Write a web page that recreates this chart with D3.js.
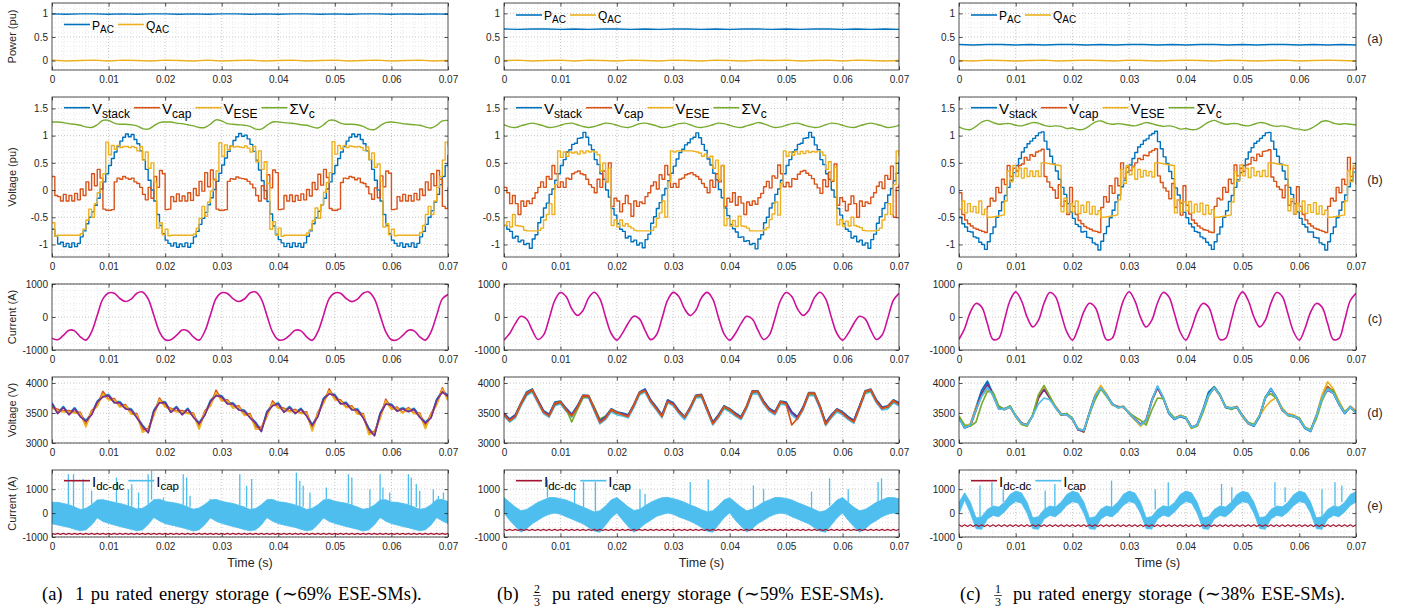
<!DOCTYPE html>
<html>
<head>
<meta charset="utf-8">
<script src="https://cdn.jsdelivr.net/npm/d3@7"></script>
<style>
  body { margin: 0; background: #fff; }
  svg { display: block; }
</style>
</head>
<body>
<svg id="chart" width="1409" height="612"></svg>
<script>
// sample spacing of the stored series (s)
const T_END = 0.07;
const DT_PQ = 0.0025, DT_SLOW = 0.001, DT_FAST = 0.0005;
const xTicks = [0, 0.01, 0.02, 0.03, 0.04, 0.05, 0.06, 0.07];

// ---------- (a) power, pu, every 2.5 ms ----------
const pAcA = [0.99,0.98,0.99,0.99,0.98,0.99,0.98,0.99,0.99,0.98,0.99,0.98,0.99,0.99,0.98,0.99,0.98,0.99,0.99,0.98,0.99,0.98,0.99,0.99,0.98,0.99,0.98,0.99,0.98];
const qAcA = [0.01,-0.01,0.00,0.01,-0.01,0.01,0.00,-0.01,0.01,0.00,-0.01,0.01,-0.01,0.00,0.01,-0.01,0.00,0.01,-0.01,0.00,0.01,-0.01,0.00,0.01,-0.01,0.00,0.01,-0.01,0.00];
const pAcB = [0.67,0.66,0.67,0.67,0.66,0.67,0.66,0.67,0.67,0.66,0.67,0.66,0.67,0.67,0.66,0.67,0.66,0.67,0.67,0.66,0.67,0.66,0.67,0.67,0.66,0.67,0.66,0.67,0.66];
const qAcB = [0.00,0.01,-0.01,0.00,0.01,-0.01,0.01,0.00,-0.01,0.01,0.00,-0.01,0.01,0.00,-0.01,0.01,0.00,-0.01,0.01,0.00,0.01,-0.01,0.00,0.01,-0.01,0.01,0.00,-0.01,0.00];
const pAcC = [0.34,0.33,0.34,0.34,0.33,0.34,0.33,0.34,0.34,0.33,0.34,0.33,0.34,0.34,0.33,0.34,0.33,0.34,0.34,0.33,0.34,0.33,0.34,0.34,0.33,0.34,0.33,0.34,0.33];
const qAcC = [0.00,-0.01,0.01,0.00,-0.01,0.00,0.01,-0.01,0.00,0.01,0.00,-0.01,0.01,0.00,-0.01,0.00,0.01,0.00,-0.01,0.01,0.00,-0.01,0.00,0.01,-0.01,0.00,0.01,0.00,-0.01];

// ---------- (b) voltages, pu, every 0.5 ms (sum of caps every 1 ms) ----------
const vStackA = [
  -0.72,-0.85,-0.99,-0.96,-1.04,-0.98,-1.05,-0.97,-1.04,-0.98,-0.86,-0.75,-0.62,-0.50,-0.40,-0.28,-0.15,0.02,0.15,0.30,
  0.45,0.58,0.70,0.80,0.90,0.97,1.03,0.98,1.02,0.93,0.85,0.72,0.56,0.38,0.18,0.00,-0.20,-0.45,-0.65,-0.80,
  -0.92,-0.98,-1.03,-0.97,-1.05,-0.99,-1.04,-0.97,-1.05,-0.98,-0.86,-0.76,-0.63,-0.52,-0.41,-0.27,-0.14,0.01,0.16,0.31,
  0.46,0.59,0.71,0.81,0.91,0.98,1.04,0.99,1.01,0.94,0.84,0.71,0.55,0.37,0.17,-0.01,-0.21,-0.44,-0.66,-0.81,
  -0.91,-0.97,-1.04,-0.98,-1.05,-0.97,-1.04,-0.98,-1.05,-0.97,-0.85,-0.75,-0.62,-0.51,-0.39,-0.27,-0.15,0.02,0.15,0.30,
  0.45,0.58,0.70,0.80,0.90,0.97,1.03,0.98,1.02,0.93,0.85,0.72,0.56,0.38,0.18,0.00,-0.20,-0.45,-0.65,-0.80,
  -0.92,-0.98,-1.03,-0.97,-1.05,-0.99,-1.04,-0.97,-1.05,-0.98,-0.86,-0.76,-0.63,-0.50,-0.38,-0.22,-0.08,0.10,0.25,0.45,
  0.65];
const vCapA = [
  0.25,-0.10,-0.12,-0.20,-0.08,-0.20,-0.10,-0.20,-0.06,-0.18,0.02,-0.10,0.15,0.00,0.30,0.08,0.38,0.22,-0.35,-0.37,
  -0.37,-0.36,0.15,0.22,0.20,0.25,0.22,0.20,0.22,0.15,0.12,0.05,-0.08,-0.18,0.05,-0.15,0.25,0.05,0.36,0.30,
  -0.36,-0.35,-0.12,-0.21,-0.07,-0.20,-0.11,-0.20,-0.05,-0.19,0.03,-0.10,0.16,-0.02,0.32,0.06,0.37,0.20,-0.35,-0.37,
  -0.37,-0.36,0.16,0.21,0.20,0.24,0.22,0.21,0.20,0.16,0.11,0.04,-0.10,-0.20,0.08,-0.16,0.28,0.04,0.37,0.32,
  -0.36,-0.35,-0.10,-0.20,-0.09,-0.21,-0.10,-0.19,-0.07,-0.18,0.01,-0.11,0.14,0.01,0.29,0.09,0.38,0.23,-0.34,-0.37,
  -0.37,-0.35,0.14,0.22,0.21,0.25,0.23,0.19,0.22,0.14,0.12,0.06,-0.07,-0.17,0.04,-0.14,0.26,0.06,0.35,0.31,
  -0.36,-0.35,-0.12,-0.20,-0.08,-0.20,-0.10,-0.20,-0.06,-0.18,0.02,-0.10,0.15,0.00,0.30,0.08,0.36,0.20,-0.30,-0.34,
  0.05];
const vEseA = [
  -0.60,-0.85,-0.83,-0.83,-0.83,-0.83,-0.83,-0.83,-0.83,-0.83,-0.80,-0.72,-0.55,-0.35,-0.50,-0.25,-0.05,0.15,0.30,0.88,
  0.65,0.82,0.75,0.82,0.78,0.80,0.80,0.78,0.80,0.78,0.72,0.80,0.55,0.70,0.40,0.50,0.15,-0.70,-0.60,-0.82,
  -0.72,-0.84,-0.83,-0.83,-0.83,-0.83,-0.83,-0.83,-0.83,-0.83,-0.81,-0.70,-0.52,-0.30,-0.48,-0.22,-0.02,0.18,0.35,0.87,
  0.62,0.83,0.74,0.81,0.79,0.80,0.79,0.78,0.81,0.77,0.70,0.80,0.52,0.72,0.38,0.52,0.12,-0.72,-0.58,-0.83,
  -0.70,-0.85,-0.83,-0.83,-0.83,-0.83,-0.83,-0.83,-0.83,-0.83,-0.79,-0.73,-0.56,-0.33,-0.52,-0.27,-0.04,0.14,0.32,0.89,
  0.66,0.82,0.76,0.82,0.78,0.81,0.80,0.79,0.80,0.78,0.73,0.79,0.56,0.68,0.42,0.48,0.16,-0.68,-0.62,-0.82,
  -0.72,-0.84,-0.83,-0.83,-0.83,-0.83,-0.83,-0.83,-0.83,-0.83,-0.78,-0.65,-0.45,-0.30,-0.45,-0.20,0.05,0.25,0.55,0.88,
  0.80];
const sumVcA = [
  1.25,1.25,1.24,1.22,1.21,1.19,1.16,1.15,1.20,1.28,1.28,1.23,1.21,1.21,1.20,1.18,1.13,1.12,1.18,1.24,
  1.25,1.25,1.23,1.22,1.20,1.18,1.15,1.15,1.21,1.29,1.27,1.22,1.21,1.20,1.19,1.17,1.12,1.12,1.19,1.25,
  1.25,1.24,1.23,1.22,1.20,1.19,1.16,1.14,1.20,1.28,1.28,1.23,1.21,1.21,1.20,1.17,1.12,1.11,1.18,1.24,
  1.25,1.24,1.22,1.21,1.20,1.19,1.16,1.14,1.19,1.27,1.28];

const vStackB = [
  -0.65,-0.72,-0.76,-0.88,-0.85,-0.95,-0.92,-1.00,-0.98,-1.07,-0.90,-0.82,-0.60,-0.50,-0.33,-0.24,-0.08,0.02,0.18,0.30,
  0.45,0.56,0.70,0.74,0.84,0.86,0.95,0.96,1.06,0.97,0.83,0.74,0.56,0.47,0.30,0.20,0.00,-0.13,-0.34,-0.46,
  -0.62,-0.72,-0.76,-0.88,-0.85,-0.95,-0.92,-1.01,-0.97,-1.06,-0.91,-0.81,-0.61,-0.49,-0.34,-0.23,-0.09,0.03,0.17,0.31,
  0.44,0.57,0.69,0.75,0.83,0.87,0.94,0.97,1.05,0.96,0.84,0.73,0.57,0.46,0.31,0.19,0.01,-0.14,-0.33,-0.47,
  -0.63,-0.71,-0.77,-0.87,-0.86,-0.94,-0.93,-1.00,-0.98,-1.08,-0.90,-0.82,-0.60,-0.50,-0.33,-0.24,-0.08,0.02,0.18,0.30,
  0.45,0.56,0.70,0.74,0.84,0.86,0.95,0.96,1.06,0.97,0.83,0.74,0.56,0.47,0.30,0.20,0.00,-0.13,-0.34,-0.46,
  -0.62,-0.72,-0.76,-0.88,-0.85,-0.95,-0.92,-1.01,-0.97,-1.07,-0.91,-0.81,-0.61,-0.49,-0.34,-0.23,-0.09,0.03,0.17,0.31,
  0.52];
const vCapB = [
  0.05,-0.05,-0.25,-0.10,-0.25,-0.45,-0.20,-0.30,-0.20,-0.25,-0.15,-0.05,0.05,0.15,0.05,0.25,0.20,0.45,0.30,0.05,
  0.15,0.05,0.22,0.20,0.30,0.33,0.35,0.30,0.28,0.20,0.10,0.05,-0.05,0.20,0.05,0.35,0.15,0.50,-0.30,-0.15,
  -0.20,-0.40,-0.25,-0.10,-0.25,-0.48,-0.20,-0.30,-0.22,-0.25,-0.12,-0.05,0.08,0.15,0.02,0.28,0.20,0.45,0.28,0.05,
  0.12,0.05,0.20,0.22,0.28,0.30,0.32,0.28,0.25,0.20,0.12,0.05,-0.05,0.18,0.05,0.30,0.15,0.45,-0.30,-0.15,
  -0.22,-0.05,-0.28,-0.12,-0.24,-0.45,-0.22,-0.28,-0.20,-0.26,-0.14,-0.06,0.06,0.16,0.04,0.26,0.22,0.46,0.30,0.06,
  0.14,0.06,0.21,0.20,0.29,0.34,0.36,0.31,0.27,0.21,0.11,0.04,-0.06,0.19,0.06,0.33,0.16,0.48,-0.28,-0.14,
  -0.21,-0.38,-0.26,-0.11,-0.25,-0.50,-0.20,-0.30,-0.22,-0.25,-0.13,-0.05,0.07,0.15,0.03,0.27,0.20,0.44,-0.50,0.05,
  0.10];
const vEseB = [
  -0.65,-0.58,-0.68,-0.45,-0.65,-0.66,-0.67,-0.74,-0.75,-0.75,-0.75,-0.75,-0.74,-0.70,-0.55,-0.45,-0.25,-0.45,0.10,0.72,
  0.60,0.70,0.62,0.70,0.68,0.70,0.66,0.72,0.68,0.72,0.70,0.72,0.70,0.65,0.35,0.50,0.15,0.40,-0.65,-0.55,
  -0.68,-0.55,-0.66,-0.62,-0.67,-0.70,-0.74,-0.75,-0.75,-0.75,-0.75,-0.75,-0.74,-0.68,-0.52,-0.42,-0.20,-0.50,0.15,0.72,
  0.70,0.72,0.72,0.72,0.72,0.72,0.72,0.71,0.70,0.68,0.62,0.66,0.60,0.62,0.40,0.55,0.20,0.45,-0.65,-0.52,
  -0.66,-0.56,-0.67,-0.48,-0.66,-0.67,-0.70,-0.75,-0.75,-0.75,-0.75,-0.75,-0.73,-0.69,-0.54,-0.44,-0.22,-0.46,0.12,0.72,
  0.62,0.70,0.64,0.71,0.66,0.71,0.67,0.72,0.69,0.71,0.70,0.72,0.70,0.64,0.38,0.52,0.18,0.42,-0.64,-0.54,
  -0.67,-0.57,-0.66,-0.50,-0.65,-0.67,-0.69,-0.74,-0.75,-0.75,-0.75,-0.75,-0.74,-0.70,-0.55,-0.45,-0.25,-0.45,0.10,0.72,
  0.62];
const sumVcB = [
  1.20,1.16,1.15,1.18,1.21,1.23,1.21,1.18,1.15,1.16,1.19,1.22,1.23,1.20,1.17,1.15,1.17,1.20,1.23,1.22,
  1.19,1.16,1.15,1.18,1.22,1.23,1.21,1.18,1.15,1.16,1.19,1.22,1.23,1.20,1.16,1.15,1.17,1.20,1.23,1.22,
  1.19,1.16,1.15,1.18,1.21,1.24,1.22,1.18,1.15,1.16,1.19,1.22,1.23,1.20,1.17,1.15,1.16,1.20,1.23,1.22,
  1.19,1.16,1.15,1.18,1.21,1.23,1.21,1.18,1.15,1.16,1.19];

const vStackC = [
  -0.50,-0.62,-0.68,-0.76,-0.77,-0.86,-0.88,-0.96,-1.00,-1.09,-0.95,-0.80,-0.68,-0.50,-0.38,-0.22,-0.10,0.05,0.18,0.32,
  0.45,0.58,0.70,0.78,0.85,0.90,0.95,1.00,1.05,1.07,0.90,0.75,0.62,0.48,0.35,0.20,0.05,-0.08,-0.25,-0.40,
  -0.52,-0.63,-0.67,-0.77,-0.76,-0.87,-0.88,-0.97,-1.00,-1.10,-0.94,-0.80,-0.67,-0.51,-0.37,-0.22,-0.09,0.06,0.18,0.33,
  0.46,0.58,0.69,0.79,0.84,0.91,0.94,1.01,1.04,1.08,0.89,0.76,0.61,0.49,0.34,0.21,0.04,-0.09,-0.24,-0.41,
  -0.51,-0.62,-0.68,-0.76,-0.78,-0.86,-0.89,-0.96,-1.01,-1.09,-0.95,-0.81,-0.68,-0.50,-0.38,-0.21,-0.10,0.05,0.19,0.32,
  0.45,0.57,0.70,0.78,0.86,0.90,0.95,1.00,1.05,1.06,0.90,0.75,0.62,0.48,0.35,0.20,0.05,-0.08,-0.25,-0.40,
  -0.52,-0.63,-0.68,-0.77,-0.77,-0.87,-0.88,-0.97,-1.00,-1.10,-0.95,-0.80,-0.68,-0.51,-0.37,-0.22,-0.09,0.06,0.18,0.33,
  0.50];
const vCapC = [
  -0.05,-0.45,-0.55,-0.62,-0.66,-0.70,-0.72,-0.74,-0.76,-0.78,-0.30,-0.15,-0.20,0.05,-0.05,0.20,0.10,0.45,0.25,0.40,
  0.35,0.45,0.48,0.60,0.55,0.65,0.62,0.70,0.72,0.75,0.25,0.15,0.05,0.00,-0.15,0.10,-0.30,-0.20,-0.45,0.05,
  -0.30,-0.45,-0.56,-0.62,-0.67,-0.70,-0.72,-0.75,-0.76,-0.78,-0.32,-0.12,-0.22,0.08,-0.06,0.22,0.08,0.50,0.22,0.42,
  0.36,0.44,0.50,0.58,0.56,0.64,0.63,0.70,0.73,0.76,0.26,0.14,0.04,-0.02,-0.16,0.12,-0.32,-0.18,-0.46,0.08,
  -0.28,-0.44,-0.55,-0.61,-0.66,-0.70,-0.73,-0.74,-0.77,-0.78,-0.30,-0.15,-0.18,0.05,-0.04,0.20,0.12,0.46,0.26,0.40,
  0.34,0.46,0.48,0.60,0.54,0.66,0.62,0.71,0.72,0.74,0.24,0.16,0.06,0.01,-0.14,0.09,-0.28,-0.21,-0.44,0.06,
  -0.30,-0.45,-0.55,-0.62,-0.66,-0.70,-0.72,-0.74,-0.76,-0.78,-0.30,-0.15,-0.20,0.05,-0.05,0.20,0.10,0.60,0.25,0.40,
  0.10];
const vEseC = [
  -0.35,-0.20,-0.42,-0.25,-0.40,-0.30,-0.42,-0.20,-0.45,-0.35,-0.50,-0.50,-0.49,-0.48,-0.47,-0.46,-0.20,0.35,0.15,0.45,
  0.25,0.40,0.22,0.40,0.25,0.35,0.25,0.35,0.25,0.50,0.50,0.49,0.48,0.47,0.46,0.45,-0.40,-0.15,-0.42,-0.25,
  -0.40,-0.20,-0.43,-0.28,-0.41,-0.22,-0.44,-0.30,-0.45,-0.38,-0.50,-0.50,-0.49,-0.48,-0.47,-0.46,-0.18,0.38,0.12,0.45,
  0.28,0.42,0.20,0.38,0.24,0.36,0.26,0.34,0.24,0.50,0.50,0.49,0.48,0.47,0.46,0.45,-0.42,-0.18,-0.40,-0.22,
  -0.38,-0.21,-0.42,-0.26,-0.40,-0.24,-0.45,-0.28,-0.44,-0.36,-0.50,-0.50,-0.49,-0.48,-0.47,-0.46,-0.22,0.34,0.16,0.46,
  0.26,0.40,0.23,0.41,0.26,0.34,0.25,0.36,0.25,0.50,0.50,0.49,0.48,0.47,0.46,0.45,-0.38,-0.16,-0.43,-0.24,
  -0.39,-0.20,-0.43,-0.27,-0.41,-0.23,-0.44,-0.29,-0.45,-0.37,-0.50,-0.50,-0.49,-0.48,-0.47,-0.46,-0.20,0.36,0.15,0.45,
  0.30];
const sumVcC = [
  1.16,1.12,1.11,1.17,1.25,1.28,1.24,1.21,1.22,1.22,1.19,1.18,1.21,1.24,1.23,1.19,1.17,1.18,1.17,1.13,
  1.14,1.11,1.12,1.18,1.25,1.27,1.23,1.21,1.22,1.21,1.19,1.18,1.21,1.24,1.22,1.19,1.17,1.18,1.16,1.12,
  1.13,1.11,1.12,1.18,1.25,1.28,1.24,1.21,1.22,1.22,1.19,1.18,1.21,1.24,1.23,1.19,1.17,1.18,1.16,1.13,
  1.12,1.10,1.13,1.19,1.26,1.27,1.23,1.21,1.22,1.21,1.20];

// ---------- (c) arm current, A, every 1 ms ----------
const currA = [
  -640,-690,-560,-400,-420,-600,-700,-450,50,550,730,720,560,470,540,720,760,550,50,-450,
  -690,-690,-560,-395,-425,-605,-700,-440,60,560,735,715,555,470,545,725,755,545,40,-460,
  -690,-685,-555,-400,-420,-600,-705,-445,55,555,730,720,560,465,540,720,760,550,50,-450,
  -690,-690,-560,-400,-420,-600,-700,-450,50,550,680];
const currB = [
  -700,-500,-200,20,-60,-400,-680,-550,-50,500,740,620,250,50,200,580,750,550,0,-500,
  -700,-490,-190,25,-55,-405,-685,-545,-40,510,745,615,245,45,205,585,745,545,-10,-510,
  -700,-500,-200,20,-60,-400,-680,-550,-50,500,740,620,250,50,200,580,750,550,0,-500,
  -700,-495,-195,22,-58,-402,-682,-548,-45,505,720];
const currC = [
  -680,-350,150,410,300,-200,-680,-650,-100,500,760,500,0,-300,-100,420,740,620,100,-450,
  -700,-345,155,415,295,-205,-685,-645,-95,505,765,495,-5,-305,-95,425,745,615,95,-455,
  -700,-350,150,410,300,-200,-680,-650,-100,500,760,500,0,-300,-100,420,740,620,100,-450,
  -700,-350,150,410,300,-200,-680,-650,-100,500,720];

// ---------- (d) ESE-SM capacitor voltages, V, every 1 ms ----------
const vSmA_lightblue = [
  3670,3510,3610,3490,3590,3460,3380,3490,3700,3790,3810,3690,3690,3590,3570,3440,3300,3190,3550,3690,
  3690,3530,3610,3490,3580,3450,3340,3480,3710,3810,3790,3670,3670,3570,3550,3440,3350,3210,3530,3640,
  3670,3530,3610,3510,3580,3470,3310,3460,3750,3840,3810,3670,3680,3570,3570,3440,3250,3140,3500,3670,
  3650,3550,3590,3540,3580,3450,3350,3440,3730,3870,3800];
const vSmA_blue = [
  3660,3500,3600,3480,3580,3450,3370,3480,3690,3780,3800,3680,3680,3580,3560,3430,3290,3180,3540,3680,
  3680,3520,3600,3480,3570,3440,3330,3470,3700,3800,3780,3660,3660,3560,3540,3430,3340,3200,3520,3630,
  3660,3520,3600,3500,3570,3460,3300,3450,3740,3830,3800,3660,3670,3560,3560,3430,3240,3130,3490,3660,
  3640,3540,3580,3530,3570,3440,3340,3430,3720,3860,3790];
const vSmA_orange = [
  3590,3560,3530,3540,3510,3510,3300,3540,3620,3860,3730,3740,3610,3640,3490,3490,3220,3240,3470,3750,
  3610,3580,3530,3540,3500,3500,3260,3530,3630,3880,3710,3720,3590,3620,3470,3490,3270,3260,3450,3700,
  3590,3580,3530,3560,3500,3520,3230,3510,3670,3900,3730,3720,3600,3620,3490,3490,3170,3190,3420,3730,
  3570,3600,3510,3590,3500,3500,3270,3490,3650,3920,3720];
const vSmA_yellow = [
  3580,3540,3520,3520,3500,3490,3270,3520,3610,3820,3720,3720,3600,3620,3480,3470,3180,3220,3460,3720,
  3600,3560,3520,3520,3490,3480,3230,3510,3620,3840,3700,3700,3580,3600,3460,3470,3230,3240,3440,3670,
  3580,3560,3520,3540,3490,3500,3200,3490,3660,3870,3720,3700,3590,3600,3480,3470,3140,3170,3410,3700,
  3560,3580,3500,3570,3490,3480,3240,3470,3640,3900,3710];
const vSmA_purple = [
  3650,3490,3590,3470,3570,3440,3360,3470,3680,3770,3790,3670,3670,3570,3550,3420,3280,3170,3530,3670,
  3670,3510,3590,3470,3560,3430,3320,3460,3690,3790,3770,3650,3650,3550,3530,3420,3330,3190,3510,3620,
  3650,3510,3590,3490,3560,3450,3290,3440,3730,3820,3790,3650,3660,3550,3550,3420,3230,3120,3480,3650,
  3630,3530,3570,3520,3560,3430,3330,3420,3710,3850,3780];

const vSmB_lightblue = [
  3450,3350,3420,3620,3790,3850,3670,3490,3430,3620,3650,3530,3430,3570,3750,3750,3530,3320,3390,3520,
  3470,3450,3420,3590,3800,3850,3670,3550,3420,3670,3620,3490,3390,3550,3750,3760,3530,3300,3420,3570,
  3520,3450,3390,3570,3820,3820,3650,3530,3470,3650,3630,3470,3390,3550,3790,3790,3570,3290,3420,3520,
  3470,3390,3330,3570,3820,3850,3670,3550,3570,3670,3620];
const vSmB_green = [
  3490,3390,3440,3640,3810,3870,3710,3530,3470,3640,3670,3570,3350,3560,3760,3770,3600,3400,3450,3540,
  3490,3490,3460,3640,3820,3870,3710,3590,3460,3690,3660,3530,3430,3590,3770,3780,3570,3340,3460,3590,
  3540,3490,3430,3610,3840,3860,3690,3570,3510,3670,3670,3510,3430,3590,3810,3810,3610,3330,3460,3540,
  3510,3430,3370,3610,3840,3870,3710,3590,3590,3690,3660];
const vSmB_blue = [
  3500,3400,3470,3670,3850,3900,3720,3540,3480,3680,3700,3580,3480,3620,3800,3790,3580,3370,3440,3570,
  3520,3500,3470,3640,3850,3900,3720,3600,3470,3720,3670,3540,3440,3600,3800,3810,3580,3350,3470,3620,
  3570,3500,3440,3620,3870,3870,3700,3580,3520,3700,3680,3520,3440,3600,3840,3840,3620,3340,3470,3570,
  3520,3440,3380,3620,3870,3900,3720,3600,3620,3720,3670];
const vSmB_purple = [
  3485,3385,3455,3655,3815,3885,3705,3525,3465,3645,3685,3565,3465,3605,3785,3775,3565,3355,3425,3555,
  3505,3485,3455,3625,3835,3885,3705,3585,3455,3705,3655,3525,3425,3585,3785,3795,3565,3335,3455,3605,
  3555,3485,3425,3605,3855,3855,3685,3565,3505,3685,3665,3505,3425,3585,3825,3825,3605,3325,3455,3555,
  3505,3425,3365,3605,3855,3885,3705,3585,3605,3705,3655];
const vSmB_orange = [
  3470,3370,3440,3660,3830,3890,3690,3510,3450,3660,3690,3550,3450,3590,3790,3790,3570,3340,3410,3560,
  3510,3470,3440,3630,3840,3870,3690,3570,3440,3690,3640,3510,3430,3590,3790,3800,3550,3320,3440,3610,
  3560,3470,3410,3610,3860,3860,3670,3550,3490,3690,3650,3300,3410,3570,3830,3830,3610,3310,3440,3560,
  3490,3410,3350,3590,3860,3890,3690,3570,3610,3710,3640];

const vSmC_blue = [
  3430,3250,3310,3600,3880,4030,3820,3590,3570,3610,3440,3320,3310,3460,3760,3910,3760,3590,3470,3490,
  3410,3220,3190,3510,3790,3930,3810,3660,3590,3610,3490,3390,3310,3370,3720,3940,3760,3490,3390,3440,
  3410,3250,3310,3560,3850,3940,3810,3590,3570,3590,3440,3320,3280,3440,3760,3910,3760,3560,3460,3440,
  3390,3240,3190,3440,3760,3940,3840,3640,3490,3610,3530];
const vSmC_orange = [
  3410,3270,3290,3540,3810,3960,3790,3570,3570,3590,3460,3340,3290,3460,3740,3890,3760,3610,3490,3470,
  3390,3240,3180,3490,3770,3910,3810,3640,3610,3590,3510,3410,3310,3390,3710,3920,3740,3510,3410,3460,
  3430,3270,3290,3540,3790,3920,3790,3610,3570,3610,3460,3340,3300,3460,3740,3890,3740,3540,3480,3460,
  3410,3260,3210,3460,3740,3940,3860,3660,3510,3590,3510];
const vSmC_yellow = [
  3450,3280,3320,3600,3780,3900,3820,3600,3550,3600,3440,3320,3310,3460,3760,3920,3760,3600,3470,3480,
  3400,3220,3210,3510,3800,3960,3820,3640,3600,3610,3490,3390,3280,3360,3690,3920,3760,3510,3400,3460,
  3420,3240,3290,3540,3790,3920,3790,3600,3590,3600,3440,3320,3300,3450,3600,3700,3760,3580,3480,3470,
  3410,3260,3210,3460,3800,4020,3900,3700,3520,3610,3540];
const vSmC_purple = [
  3420,3250,3290,3560,3820,3980,3810,3580,3560,3610,3450,3330,3300,3450,3760,3890,3750,3600,3470,3480,
  3400,3220,3200,3500,3780,3910,3800,3650,3600,3600,3500,3400,3310,3380,3700,3920,3750,3500,3400,3450,
  3420,3260,3300,3540,3800,3920,3800,3600,3580,3600,3450,3330,3290,3440,3750,3890,3750,3550,3470,3450,
  3400,3250,3210,3440,3740,3880,3830,3650,3500,3600,3510];
const vSmC_green = [
  3440,3300,3280,3350,3650,3860,3850,3620,3560,3620,3460,3310,3280,3470,3800,3960,3780,3600,3470,3490,
  3410,3240,3210,3480,3720,3900,3780,3640,3590,3600,3500,3440,3380,3300,3550,3750,3740,3520,3420,3450,
  3430,3250,3280,3500,3780,3930,3810,3610,3560,3600,3440,3340,3310,3460,3770,3820,3740,3560,3460,3440,
  3420,3260,3220,3400,3700,3900,3880,3660,3520,3590,3500];
const vSmC_lightblue = [
  3400,3250,3300,3550,3780,3930,3790,3570,3560,3600,3450,3330,3300,3450,3650,3750,3720,3590,3480,3470,
  3400,3230,3210,3500,3780,3920,3800,3650,3590,3600,3500,3400,3300,3380,3700,3950,3760,3500,3400,3450,
  3420,3260,3300,3550,3800,3920,3800,3600,3580,3600,3450,3330,3290,3450,3750,3900,3750,3550,3470,3450,
  3400,3250,3200,3450,3750,3900,3830,3650,3500,3600,3500];

// ---------- (e) currents, A ----------
// dc-dc current every 0.5 ms
const iDcA = [
  -850,-890,-850,-890,-850,-890,-850,-890,-850,-890,-850,-890,-850,-890,-850,-890,-850,-890,-850,-890,
  -850,-890,-850,-890,-850,-890,-850,-890,-850,-890,-850,-890,-850,-890,-850,-890,-850,-890,-850,-890,
  -850,-890,-850,-890,-850,-890,-850,-890,-850,-890,-850,-890,-850,-890,-850,-890,-850,-890,-850,-890,
  -850,-890,-850,-890,-850,-890,-850,-890,-850,-890,-850,-890,-850,-890,-850,-890,-850,-890,-850,-890,
  -850,-890,-850,-890,-850,-890,-850,-890,-850,-890,-850,-890,-850,-890,-850,-890,-850,-890,-850,-890,
  -850,-890,-850,-890,-850,-890,-850,-890,-850,-890,-850,-890,-850,-890,-850,-890,-850,-890,-850,-890,
  -850,-890,-850,-890,-850,-890,-850,-890,-850,-890,-850,-890,-850,-890,-850,-890,-850,-890,-850,-890,
  -850];
const iDcB = [
  -680,-730,-680,-730,-680,-730,-680,-730,-680,-730,-680,-730,-680,-730,-680,-730,-680,-730,-680,-730,
  -680,-730,-680,-730,-680,-730,-680,-730,-680,-730,-680,-730,-680,-730,-680,-730,-680,-730,-680,-730,
  -680,-730,-680,-730,-680,-730,-680,-730,-680,-730,-680,-730,-680,-730,-680,-730,-680,-730,-680,-730,
  -680,-730,-680,-730,-680,-730,-680,-730,-680,-730,-680,-730,-680,-730,-680,-730,-680,-730,-680,-730,
  -680,-730,-680,-730,-680,-730,-680,-730,-680,-730,-680,-730,-680,-730,-680,-730,-680,-730,-680,-730,
  -680,-730,-680,-730,-680,-730,-680,-730,-680,-730,-680,-730,-680,-730,-680,-730,-680,-730,-680,-730,
  -680,-730,-680,-730,-680,-730,-680,-730,-680,-730,-680,-730,-680,-730,-680,-730,-680,-730,-680,-730,
  -680];
const iDcC = [
  -490,-560,-490,-560,-490,-560,-490,-560,-490,-560,-490,-560,-490,-560,-490,-560,-490,-560,-490,-560,
  -490,-560,-490,-560,-490,-560,-490,-560,-490,-560,-490,-560,-490,-560,-490,-560,-490,-560,-490,-560,
  -490,-560,-490,-560,-490,-560,-490,-560,-490,-560,-490,-560,-490,-560,-490,-560,-490,-560,-490,-560,
  -490,-560,-490,-560,-490,-560,-490,-560,-490,-560,-490,-560,-490,-560,-490,-560,-490,-560,-490,-560,
  -490,-560,-490,-560,-490,-560,-490,-560,-490,-560,-490,-560,-490,-560,-490,-560,-490,-560,-490,-560,
  -490,-560,-490,-560,-490,-560,-490,-560,-490,-560,-490,-560,-490,-560,-490,-560,-490,-560,-490,-560,
  -490,-560,-490,-560,-490,-560,-490,-560,-490,-560,-490,-560,-490,-560,-490,-560,-490,-560,-490,-560,
  -490];
// capacitor current: switching band (upper / lower envelope every 1 ms) plus isolated spikes
const iCapHiA = [
  450,450,400,350,250,150,200,350,550,560,500,450,400,340,260,170,200,350,560,580,
  480,450,410,350,250,160,210,360,550,570,490,440,400,330,250,150,190,350,560,570,
  470,450,400,340,260,150,200,350,550,580,490,450,410,340,250,160,200,340,550,560,
  460,450,400,350,250,150,200,350,560,570,480];
const iCapLoA = [
  -450,-500,-550,-600,-680,-740,-700,-500,-200,-350,-430,-500,-560,-620,-680,-740,-700,-480,-180,-330,
  -440,-500,-550,-610,-680,-750,-700,-490,-200,-340,-430,-500,-560,-620,-690,-740,-700,-500,-190,-340,
  -440,-500,-550,-600,-680,-740,-700,-480,-200,-350,-430,-500,-560,-620,-680,-750,-700,-490,-180,-340,
  -440,-500,-560,-610,-680,-740,-700,-500,-190,-330,-440];
const iCapSpikeTA = [0.0029,0.0038,0.0055,0.0070,0.0114,0.0135,0.0141,0.0153,0.0170,0.0176,0.0197,0.0232,0.0238,0.0244,0.0279,0.0332,0.0344,0.0353,0.0432,0.0438,0.0444,0.0456,0.0485,0.0524,0.0530,0.0562,0.0580,0.0585,0.0597,0.0630,0.0635,0.0644,0.0650,0.0674,0.0683,0.0692];
const iCapSpikeVA = [1625,1625,1420,930,1490,1000,1200,860,1625,1760,650,1625,1490,720,580,1625,1140,1420,1690,1350,1140,860,1070,1625,1490,1000,1625,1070,860,1625,1490,1210,930,1000,720,860];

const iCapHiB = [
  650,450,250,100,150,300,450,550,650,650,600,550,450,350,250,150,50,100,300,550,
  650,460,260,110,150,310,450,560,640,660,600,540,450,340,250,140,60,100,310,550,
  640,450,250,100,160,300,460,550,650,650,610,550,440,350,250,150,50,110,300,540,
  650,450,240,100,150,300,450,550,650,650,600];
const iCapLoB = [
  0,-300,-550,-800,-650,-450,-300,-150,-50,0,-50,-150,-250,-350,-450,-600,-750,-800,-500,-200,
  0,-290,-560,-800,-640,-450,-300,-140,-60,0,-50,-160,-250,-340,-460,-600,-760,-800,-490,-200,
  10,-300,-550,-790,-650,-440,-300,-150,-50,0,-40,-150,-250,-350,-450,-610,-750,-800,-500,-210,
  0,-300,-560,-800,-650,-450,-310,-150,-50,0,-50];
const iCapSpikeTB = [0.0077,0.0125,0.0141,0.0162,0.0241,0.0250,0.0330,0.0362,0.0442,0.0460,0.0545,0.0577,0.0610,0.0663,0.0669];
const iCapSpikeVB = [1400,1000,1300,1300,1000,800,1300,1400,1150,1000,900,1450,1000,1300,1450];

const iCapHiC = [
  450,850,450,-200,-150,150,300,250,450,780,920,850,450,-200,-150,150,300,250,450,780,
  910,850,460,-210,-150,160,300,240,450,790,920,840,450,-200,-140,150,310,250,440,780,
  920,850,450,-200,-150,150,300,250,450,780,910,850,450,-190,-150,150,300,260,450,770,
  920,850,450,-200,-150,150,300,250,450,780,900];
const iCapLoC = [
  -40,550,0,-650,-680,-250,-100,-150,50,320,480,420,0,-650,-680,-250,-100,-150,50,320,
  470,420,10,-660,-680,-250,-100,-160,50,330,480,410,0,-650,-670,-250,-90,-150,40,320,
  480,420,0,-650,-680,-250,-100,-150,50,320,470,420,0,-640,-680,-250,-100,-140,50,310,
  480,420,0,-650,-680,-250,-100,-150,50,320,460];
const iCapSpikeTC = [0.0037,0.0058,0.0078,0.0152,0.0169,0.0269,0.0346,0.0369,0.0463,0.0481,0.0557,0.0575,0.0640,0.0663,0.0675];
const iCapSpikeVC = [1150,1290,1000,940,1220,1360,1000,1290,1220,1080,1290,1080,1000,1290,1150];

// ---------- text ----------
const captions = [
  { label: "(a)", frac: null, rest: "1 pu rated energy storage (\u223C69% ESE-SMs)." },
  { label: "(b)", frac: ["2", "3"], rest: "pu rated energy storage (\u223C59% ESE-SMs)." },
  { label: "(c)", frac: ["1", "3"], rest: "pu rated energy storage (\u223C38% ESE-SMs)." }
];
const yLabels = { a: "Power (pu)", b: "Voltage (pu)", c: "Current (A)", d: "Voltage (V)", e: "Current (A)" };

// ---------- styling / layout ----------
const col = {
  blue: "#0072BD", orange: "#D95319", yellow: "#EDB120", purple: "#7E2F8E",
  green: "#77AC30", lightblue: "#4DBEEE", darkred: "#A2142F", magenta: "#CC1199"
};
const SANS = '"Liberation Sans", Arial, Helvetica, sans-serif';
const SERIF = '"Liberation Serif", "Times New Roman", serif';
const INK = "#262626";

const colX = [[52, 448], [504, 899], [959, 1356]];
const rowY = { a: [3, 70], b: [97, 257], c: [284, 350], d: [377, 443], e: [470, 537] };
const rowSpec = {
  a: { domain: [-0.2, 1.22], ticks: [0, 0.5, 1], minor: 0.1 },
  b: { domain: [-1.23, 1.71], ticks: [-1, -0.5, 0, 0.5, 1, 1.5], minor: 0.1 },
  c: { domain: [-1000, 1000], ticks: [-1000, 0, 1000], minor: 200 },
  d: { domain: [3000, 4100], ticks: [3000, 3500, 4000], minor: 100 },
  e: { domain: [-1000, 1800], ticks: [-1000, 0, 1000], minor: 200 }
};

const svg = d3.select("#chart");
svg.append("rect").attr("width", 1409).attr("height", 612).attr("fill", "#fff");

let clipCount = 0;

function styleAxis(sel, labels) {
  sel.select(".domain").remove();
  sel.attr("font-family", SANS).attr("font-size", 10);
  sel.selectAll(".tick line").attr("stroke", INK).attr("stroke-width", 0.8);
  sel.selectAll(".tick text").attr("fill", INK);
  if (!labels) sel.selectAll(".tick text").remove();
}

function drawPanel(ci, rk, series, legendItems, legendY) {
  const [x0, x1] = colX[ci];
  const [y0, y1] = rowY[rk];
  const spec = rowSpec[rk];
  const x = d3.scaleLinear().domain([0, T_END]).range([x0, x1]);
  const y = d3.scaleLinear().domain(spec.domain).range([y1, y0]);
  const g = svg.append("g");

  // minor and major dotted grid
  const xMinor = d3.range(0, 36).map(k => k * 0.002).filter(v => Math.round(v * 1000) % 10 !== 0);
  const m = spec.minor;
  const yMinor = d3.range(Math.ceil(spec.domain[0] / m - 1e-9), Math.floor(spec.domain[1] / m + 1e-9) + 1)
    .map(k => k * m)
    .filter(v => !spec.ticks.some(t => Math.abs(t - v) < m / 10));
  const grid = g.append("g").attr("stroke-dasharray", "1,2").attr("fill", "none");
  grid.selectAll(".xm").data(xMinor).join("line")
    .attr("x1", d => x(d)).attr("x2", d => x(d)).attr("y1", y0).attr("y2", y1)
    .attr("stroke", "#dcdcdc").attr("stroke-width", 0.7);
  grid.selectAll(".ym").data(yMinor).join("line")
    .attr("x1", x0).attr("x2", x1).attr("y1", d => y(d)).attr("y2", d => y(d))
    .attr("stroke", "#dcdcdc").attr("stroke-width", 0.7);
  grid.selectAll(".xg").data(xTicks.slice(1, -1)).join("line")
    .attr("x1", d => x(d)).attr("x2", d => x(d)).attr("y1", y0).attr("y2", y1)
    .attr("stroke", "#b8b8b8").attr("stroke-width", 0.8);
  grid.selectAll(".yg").data(spec.ticks).join("line")
    .attr("x1", x0).attr("x2", x1).attr("y1", d => y(d)).attr("y2", d => y(d))
    .attr("stroke", "#b8b8b8").attr("stroke-width", 0.8);

  // data
  const id = "clip" + (clipCount++);
  svg.append("clipPath").attr("id", id).append("rect")
    .attr("x", x0).attr("y", y0).attr("width", x1 - x0).attr("height", y1 - y0);
  const data = g.append("g").attr("clip-path", `url(#${id})`);
  series.forEach(s => {
    if (s.band) {
      const area = d3.area()
        .x((d, i) => x(i * s.dt))
        .y0((d, i) => y(s.lo[i]))
        .y1(d => y(d));
      data.append("path").datum(s.hi).attr("d", area)
        .attr("fill", s.color).attr("stroke", s.color).attr("stroke-width", 0.8);
      data.selectAll(null).data(s.spikeT).join("line")
        .attr("x1", d => x(d)).attr("x2", d => x(d))
        .attr("y1", d => y(s.hi[Math.round(d / s.dt)]))
        .attr("y2", (d, i) => y(s.spikeV[i]))
        .attr("stroke", s.color).attr("stroke-width", 1.3);
      return;
    }
    const line = d3.line()
      .x((d, i) => x(i * s.dt))
      .y(d => y(d))
      .curve(s.curve || d3.curveLinear);
    data.append("path").datum(s.values)
      .attr("d", line).attr("fill", "none")
      .attr("stroke", s.color).attr("stroke-width", s.width || 1.4)
      .attr("stroke-linejoin", "round");
  });

  // axes: ticks pointing inward on all four sides
  const fmtX = v => (v === 0 ? "0" : v.toFixed(2));
  g.append("g").attr("transform", `translate(0,${y1})`)
    .call(d3.axisBottom(x).tickValues(xTicks).tickSize(-3.5).tickPadding(6).tickFormat(fmtX))
    .call(s => styleAxis(s, true));
  g.append("g").attr("transform", `translate(0,${y0})`)
    .call(d3.axisTop(x).tickValues(xTicks).tickSize(-3.5))
    .call(s => styleAxis(s, false));
  g.append("g").attr("transform", `translate(${x0},0)`)
    .call(d3.axisLeft(y).tickValues(spec.ticks).tickSize(-3.5).tickPadding(4).tickFormat(v => String(v)))
    .call(s => styleAxis(s, true));
  g.append("g").attr("transform", `translate(${x1},0)`)
    .call(d3.axisRight(y).tickValues(spec.ticks).tickSize(-3.5))
    .call(s => styleAxis(s, false));

  g.append("rect").attr("x", x0).attr("y", y0).attr("width", x1 - x0).attr("height", y1 - y0)
    .attr("fill", "none").attr("stroke", INK).attr("stroke-width", 0.8);

  if (legendItems) drawLegend(g, x0 + 12, legendY, legendItems.items, legendItems.main, legendItems.sub);

  if (ci === 0) {
    const cy = (y0 + y1) / 2;
    svg.append("text").attr("transform", `translate(16,${cy}) rotate(-90)`)
      .attr("text-anchor", "middle").attr("font-family", SANS).attr("font-size", 11)
      .attr("fill", INK).text(yLabels[rk]);
  }
}

function drawLegend(g, x, y, items, fMain, fSub) {
  let cx = x;
  items.forEach(it => {
    g.append("line").attr("x1", cx).attr("x2", cx + 26).attr("y1", y).attr("y2", y)
      .attr("stroke", it.color).attr("stroke-width", 1.6);
    cx += 28;
    const t = g.append("text").attr("x", cx).attr("y", y + fMain * 0.42)
      .attr("font-family", SANS).attr("font-size", fMain).attr("fill", "#000");
    t.append("tspan").text(it.main);
    t.append("tspan").attr("font-size", fSub).attr("dy", fSub * 0.3).text(it.sub);
    cx += t.node().getComputedTextLength() + 4;
  });
}

const legA = { main: 12, sub: 10, items: [
  { color: col.blue, main: "P", sub: "AC" }, { color: col.yellow, main: "Q", sub: "AC" }] };
const legB = { main: 15, sub: 12, items: [
  { color: col.blue, main: "V", sub: "stack" }, { color: col.orange, main: "V", sub: "cap" },
  { color: col.yellow, main: "V", sub: "ESE" }, { color: col.green, main: "\u03A3V", sub: "c" }] };
const legE = { main: 15, sub: 11.5, items: [
  { color: col.darkred, main: "I", sub: "dc-dc" }, { color: col.lightblue, main: "I", sub: "cap" }] };

const smooth = d3.curveCatmullRom.alpha(0.5);
const step = d3.curveStepAfter;

const columns = [
  { p: pAcA, q: qAcA, vs: vStackA, vc: vCapA, ve: vEseA, sv: sumVcA, cur: currA,
    sm: [[vSmA_lightblue, col.lightblue], [vSmA_blue, col.blue], [vSmA_orange, col.orange], [vSmA_yellow, col.yellow], [vSmA_purple, col.purple]],
    idc: iDcA, hi: iCapHiA, lo: iCapLoA, st: iCapSpikeTA, sv2: iCapSpikeVA, legAy: 24.5 },
  { p: pAcB, q: qAcB, vs: vStackB, vc: vCapB, ve: vEseB, sv: sumVcB, cur: currB,
    sm: [[vSmB_lightblue, col.lightblue], [vSmB_green, col.green], [vSmB_blue, col.blue], [vSmB_purple, col.purple], [vSmB_orange, col.orange]],
    idc: iDcB, hi: iCapHiB, lo: iCapLoB, st: iCapSpikeTB, sv2: iCapSpikeVB, legAy: 15 },
  { p: pAcC, q: qAcC, vs: vStackC, vc: vCapC, ve: vEseC, sv: sumVcC, cur: currC,
    sm: [[vSmC_blue, col.blue], [vSmC_orange, col.orange], [vSmC_yellow, col.yellow], [vSmC_purple, col.purple], [vSmC_green, col.green], [vSmC_lightblue, col.lightblue]],
    idc: iDcC, hi: iCapHiC, lo: iCapLoC, st: iCapSpikeTC, sv2: iCapSpikeVC, legAy: 15 }
];

columns.forEach((c, ci) => {
  drawPanel(ci, "a", [
    { values: c.p, dt: DT_PQ, color: col.blue },
    { values: c.q, dt: DT_PQ, color: col.yellow }
  ], legA, c.legAy);
  drawPanel(ci, "b", [
    { values: c.vs, dt: DT_FAST, color: col.blue, curve: step },
    { values: c.vc, dt: DT_FAST, color: col.orange, curve: step },
    { values: c.ve, dt: DT_FAST, color: col.yellow, curve: step },
    { values: c.sv, dt: DT_SLOW, color: col.green, curve: smooth }
  ], legB, 107.7);
  drawPanel(ci, "c", [
    { values: c.cur, dt: DT_SLOW, color: col.magenta, curve: smooth, width: 1.6 }
  ]);
  drawPanel(ci, "d", c.sm.map(([v, color]) => ({ values: v, dt: DT_SLOW, color: color, width: 1.7 })));
  drawPanel(ci, "e", [
    { band: true, hi: c.hi, lo: c.lo, spikeT: c.st, spikeV: c.sv2, dt: DT_SLOW, color: col.lightblue },
    { values: c.idc, dt: DT_FAST, color: col.darkred, width: 1.2 }
  ], legE, 480.7);

  // time label
  const [x0, x1] = colX[ci];
  svg.append("text").attr("x", (x0 + x1) / 2).attr("y", 567).attr("text-anchor", "middle")
    .attr("font-family", SANS).attr("font-size", 12.5).attr("fill", INK).text("Time (s)");
});

// row tags on the right
[["(a)", 42.5], ["(b)", 183.5], ["(c)", 323], ["(d)", 416.5], ["(e)", 510]].forEach(([t, yy]) => {
  svg.append("text").attr("x", 1375).attr("y", yy).attr("text-anchor", "middle")
    .attr("font-family", SANS).attr("font-size", 12.5).attr("fill", INK).text(t);
});

// sub-figure captions
const capPos = [
  { label: 42, fracX: null, rest: 75, end: 421.7 },
  { label: 497, fracX: 537, rest: 552, end: 884 },
  { label: 960, fracX: 998, rest: 1013, end: 1345 }
];
captions.forEach((cap, i) => {
  const pos = capPos[i];
  const base = 600;
  svg.append("text").attr("x", pos.label).attr("y", base).attr("font-family", SERIF)
    .attr("font-size", 18.5).attr("fill", "#000").text(cap.label);
  if (cap.frac) {
    svg.append("text").attr("x", pos.fracX).attr("y", 593).attr("text-anchor", "middle")
      .attr("font-family", SERIF).attr("font-size", 12).text(cap.frac[0]);
    svg.append("line").attr("x1", pos.fracX - 3.8).attr("x2", pos.fracX + 3.8)
      .attr("y1", 595.5).attr("y2", 595.5).attr("stroke", "#000").attr("stroke-width", 0.7);
    svg.append("text").attr("x", pos.fracX).attr("y", 606).attr("text-anchor", "middle")
      .attr("font-family", SERIF).attr("font-size", 12).text(cap.frac[1]);
  }
  const t = svg.append("text").attr("x", pos.rest).attr("y", base).attr("font-family", SERIF)
    .attr("font-size", 18.5).attr("fill", "#000").text(cap.rest);
  const L = t.node().getComputedTextLength();
  const n = (cap.rest.match(/ /g) || []).length;
  t.attr("word-spacing", Math.max(0, (pos.end - pos.rest - L) / n));
});
</script>
</body>
</html>
